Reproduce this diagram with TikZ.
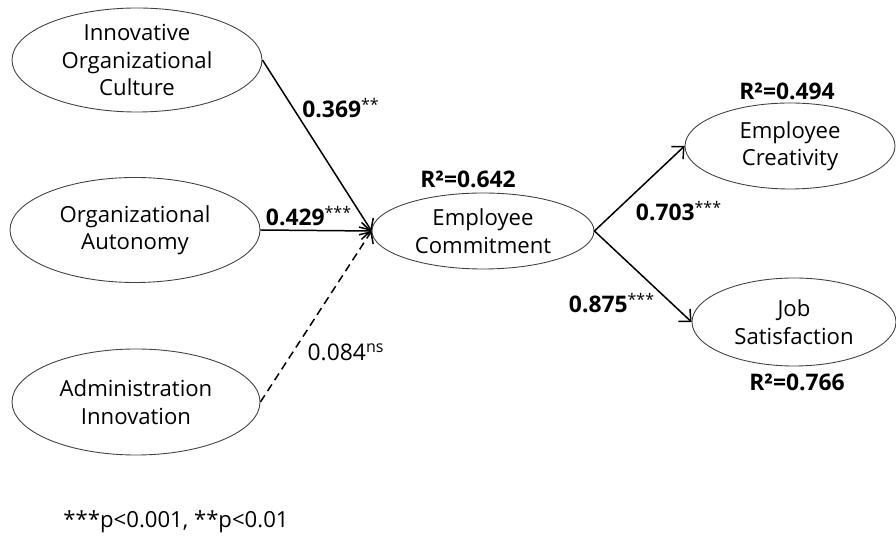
\documentclass[tikz,border=0pt]{standalone}
\usepackage{fontspec}
\setmainfont{Open Sans}
\usetikzlibrary{shapes.geometric,arrows.meta}

\tikzset{
  construct/.style={ellipse, draw=black!75, line width=0.5pt, inner sep=0pt, align=center, font=\fontsize{12.6}{15.6}\selectfont},
  coef/.style={font=\fontsize{13}{14}\selectfont\bfseries, inner sep=1pt},
  path/.style={->, line width=0.85pt},
  weakpath/.style={->, line width=0.85pt, dash pattern=on 1.6mm off 1mm}
}
\newcommand{\sig}[1]{\textsuperscript{\mdseries #1}}

\begin{document}
\begin{tikzpicture}[>={Straight Barb[length=1.8mm,width=3.4mm]}]
    \useasboundingbox (0,0) rectangle (17.92,10.74);

    % Exogenous constructs
    \node[construct, minimum width=5.0cm, minimum height=2.08cm] (ioc) at (2.74,9.54) {Innovative\\Organizational\\Culture};
    \node[construct, minimum width=5.0cm, minimum height=2.1cm] (oa) at (2.70,6.14) {Organizational\\Autonomy};
    \node[construct, minimum width=4.96cm, minimum height=2.12cm] (ai) at (2.72,2.70) {Administration\\Innovation};

    % Mediator
    \node[construct, minimum width=4.44cm, minimum height=1.52cm] (ec) at (9.66,6.12) {Employee\\Commitment};
    \node[coef] (r2ec) at (9.36,7.16) {R²=0.642};

    % Outcomes
    \node[construct, minimum width=4.2cm, minimum height=1.72cm] (cr) at (15.80,7.82) {Employee\\Creativity};
    \node[coef] (r2cr) at (15.74,8.92) {R²=0.494};
    \node[construct, minimum width=4.08cm, minimum height=1.76cm] (js) at (15.88,4.30) {Job\\Satisfaction};
    \node[coef] (r2js) at (15.94,3.10) {R²=0.766};

    % Paths
    \draw[path] (ioc.east) -- (ec.west);
    \draw[path] (oa.east) -- (ec.west);
    \draw[weakpath] (ai.east) -- (ec.west);
    \draw[path] (ec.east) -- (cr.west);
    \draw[path] (ec.east) -- (js.west);

    % Path coefficients
    \node[coef] (b1) at (6.82,8.58) {0.369\sig{**}};
    \node[coef] (b2) at (6.18,6.42) {0.429\sig{***}};
    \node[coef, font=\fontsize{13}{14}\selectfont] (b3) at (6.92,3.70) {0.084\sig{ns}};
    \node[coef] (b4) at (13.58,6.52) {0.703\sig{***}};
    \node[coef] (b5) at (12.24,4.68) {0.875\sig{***}};

    % Note
    \node[font=\fontsize{12.6}{14}\selectfont] (note) at (3.52,0.30) {***p<0.001, **p<0.01};
\end{tikzpicture}
\end{document}
